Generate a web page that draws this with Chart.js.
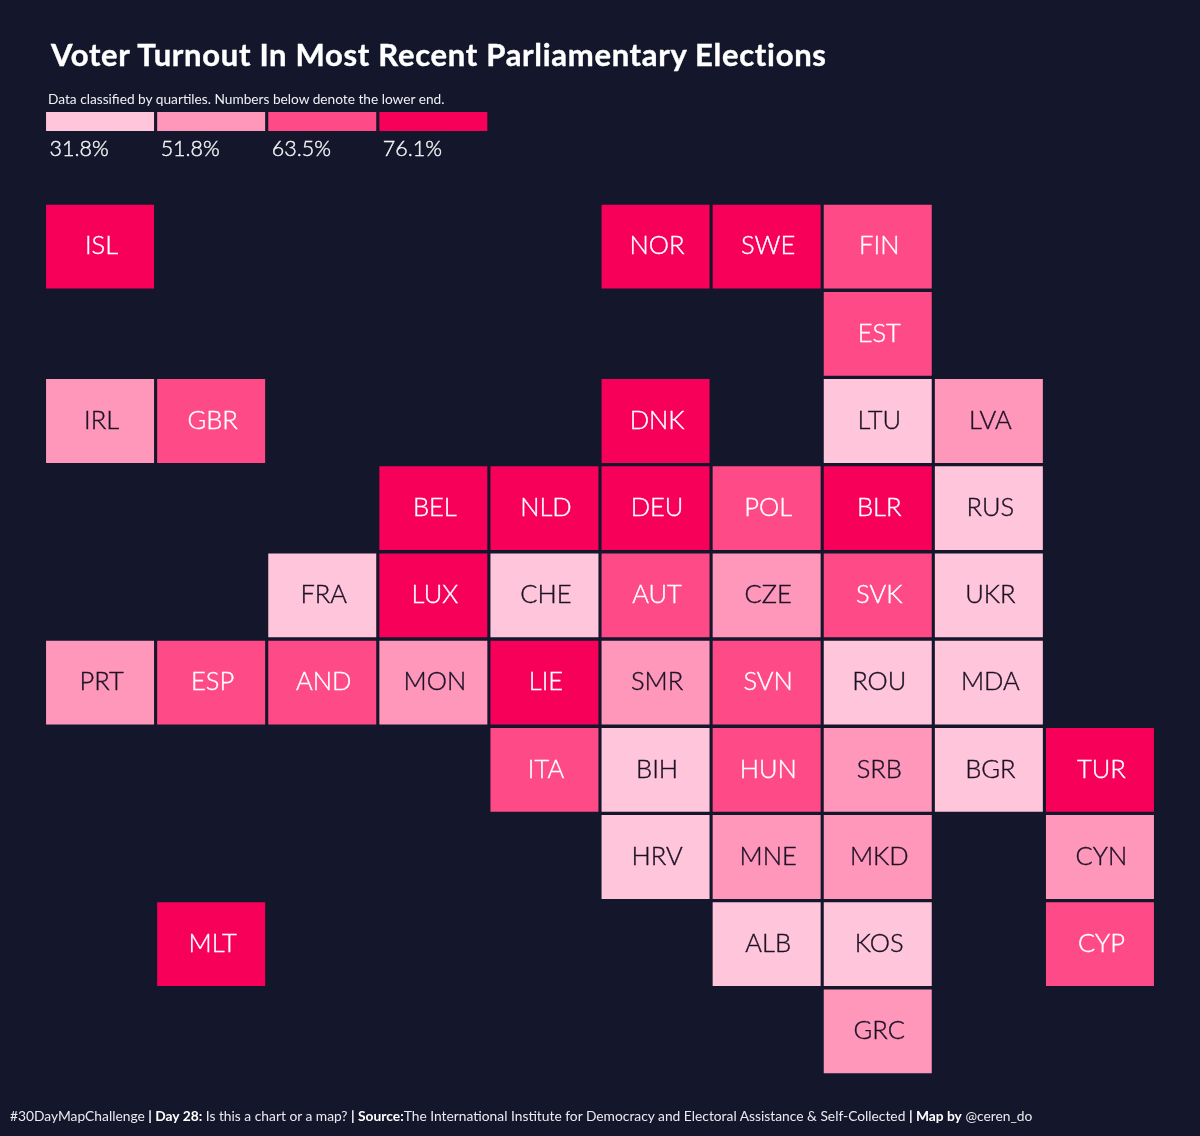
<!DOCTYPE html>
<html>
<head>
<meta charset="utf-8">
<title>Voter Turnout</title>
<script src="https://cdn.jsdelivr.net/npm/chart.js@4"></script>
<style>
  html, body { margin: 0; padding: 0; background: #14162b; }
  #wrap { position: relative; width: 1200px; height: 1136px; overflow: hidden; font-family: Lato, sans-serif; color: #fff; }
  #wrap canvas { position: absolute; left: 0; top: 0; }
  .txt { position: absolute; white-space: nowrap; }
  #title { left: 51px; top: 35px; font-size: 31px; font-weight: 700; line-height: 38px; letter-spacing: 0.7px; -webkit-text-stroke: 0.4px #fff; }
  #sub { left: 48px; top: 90px; font-size: 13.7px; line-height: 17px; color: #f0f0f4; }
  #foot { left: 10px; top: 1107px; font-size: 13.8px; line-height: 18px; color: #eceaf0; }
  #foot b { color: #fff; }
</style>
</head>
<body>
<div id="wrap">
  <canvas id="map" width="1200" height="1136"></canvas>
  <div class="txt" id="title">Voter Turnout In Most Recent Parliamentary Elections</div>
  <div class="txt" id="sub">Data classified by quartiles. Numbers below denote the lower end.</div>
  <div class="txt" id="foot">#30DayMapChallenge <b>| Day 28:</b> Is this a chart or a map? <b>| Source:</b>The International Institute for Democracy and Electoral Assistance &amp; Self-Collected <b>| Map by</b> @ceren_do</div>
</div>
<script>
// tile grid: code, column, row, quartile (0 = lowest)
const codes = ["ISL","NOR","SWE","FIN","EST","IRL","GBR","DNK","LTU","LVA",
  "BEL","NLD","DEU","POL","BLR","RUS","FRA","LUX","CHE","AUT","CZE","SVK","UKR",
  "PRT","ESP","AND","MON","LIE","SMR","SVN","ROU","MDA",
  "ITA","BIH","HUN","SRB","BGR","TUR","HRV","MNE","MKD","CYN","MLT","ALB","KOS","CYP","GRC"];
const cols = [0,5,6,7,7,0,1,5,7,8,
  3,4,5,6,7,8,2,3,4,5,6,7,8,
  0,1,2,3,4,5,6,7,8,
  4,5,6,7,8,9,5,6,7,9,1,6,7,9,7];
const rows = [0,0,0,0,1,2,2,2,2,2,
  3,3,3,3,3,3,4,4,4,4,4,4,4,
  5,5,5,5,5,5,5,5,5,
  6,6,6,6,6,6,7,7,7,7,8,8,8,8,9];
const quartiles = [3,3,3,2,2,1,2,3,0,1,
  3,3,3,2,3,0,0,3,0,2,1,2,0,
  1,2,2,1,3,1,2,0,0,
  2,0,2,1,0,3,0,1,1,1,3,0,0,2,1];

const legendLabels = ["31.8%","51.8%","63.5%","76.1%"];
const colors = ["#FFC6DB","#FF97BB","#FF4A88","#F7005A"];
const textColors = ["#1c1226","#1c1226","#ffffff","#ffffff"];
const columnNames = ["0","1","2","3","4","5","6","7","8","9"];

const ROW_PITCH = 87.2, GRID_TOP = 204.7;
const TILE_H = 83.8 / ROW_PITCH;
const LEGEND_TOP = (112 - GRID_TOP) / ROW_PITCH;
const LEGEND_BOTTOM = (131 - GRID_TOP) / ROW_PITCH;

const datasets = colors.map((color, q) => ({
  label: legendLabels[q],
  backgroundColor: color,
  data: codes.map((c, i) => i).filter(i => quartiles[i] === q)
    .map(i => ({ x: columnNames[cols[i]], y: [rows[i], rows[i] + TILE_H], code: codes[i] }))
}));
datasets.push({
  label: "legend",
  backgroundColor: colors,
  data: legendLabels.map((t, i) => ({ x: columnNames[i], y: [LEGEND_TOP, LEGEND_BOTTOM], text: t }))
});

// light face plus a hair of stroke, sits closer to the original weight
function drawText(ctx, text, px, py, color) {
  ctx.fillStyle = color;
  ctx.strokeStyle = color;
  ctx.lineWidth = 0.4;
  ctx.fillText(text, px, py);
  ctx.strokeText(text, px, py);
}

const tileLabels = {
  id: "tileLabels",
  afterDatasetsDraw(chart) {
    const { ctx, scales: { x, y } } = chart;
    ctx.save();
    ctx.textBaseline = "middle";
    chart.data.datasets.forEach((ds, q) => {
      ds.data.forEach(d => {
        if (d.code) {
          ctx.font = "300 25.5px Lato";
          ctx.textAlign = "center";
          drawText(ctx, d.code, x.getPixelForValue(d.x) + 1.5, y.getPixelForValue(d.y[0] + TILE_H / 2) - 0.5, textColors[q]);
        } else {
          ctx.font = "300 21.5px Lato";
          ctx.textAlign = "left";
          drawText(ctx, d.text, x.getPixelForValue(d.x) - 50.5, y.getPixelForValue(d.y[1]) + 18, "#f4f4f6");
        }
      });
    });
    ctx.restore();
  }
};

new Chart(document.getElementById("map"), {
  type: "bar",
  data: { labels: columnNames, datasets: datasets },
  plugins: [tileLabels],
  options: {
    responsive: false,
    animation: false,
    layout: { padding: { left: 44.5, right: 44.5, top: 0, bottom: 0 } },
    datasets: { bar: { grouped: false, barPercentage: 1, categoryPercentage: 0.972 } },
    plugins: { legend: { display: false }, tooltip: { enabled: false } },
    scales: {
      x: { display: false },
      y: { display: false, reverse: true, min: -GRID_TOP / ROW_PITCH, max: (1136 - GRID_TOP) / ROW_PITCH }
    }
  }
});
</script>
</body>
</html>
